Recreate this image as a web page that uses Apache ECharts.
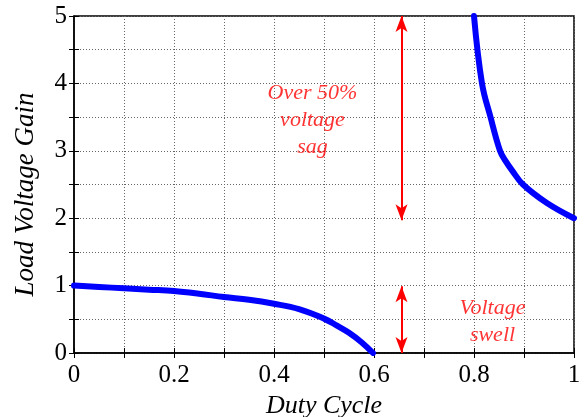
<!DOCTYPE html>
<html>
<head>
<meta charset="utf-8">
<script src="https://cdn.jsdelivr.net/npm/echarts@6/dist/echarts.min.js"></script>
<style>
  html, body { margin: 0; padding: 0; background: #fff; }
  #chart { width: 586px; height: 417px; }
</style>
</head>
<body>
<div id="chart"></div>
<script>
// lower branch (duty cycle, gain)
var lowD = [0, 0.05, 0.1, 0.15, 0.2, 0.25, 0.3, 0.35, 0.4, 0.45, 0.5, 0.525, 0.55, 0.575, 0.598];
var lowG = [1.0, 0.98, 0.96, 0.94, 0.92, 0.88, 0.83, 0.79, 0.73, 0.65, 0.51, 0.41, 0.30, 0.16, 0.0];
// upper branch
var highD = [0.8, 0.816, 0.833, 0.852, 0.863, 0.876, 0.898, 0.945, 1.0];
var highG = [5.0, 4.0, 3.5, 3.0, 2.85, 2.71, 2.5, 2.23, 2.0];

var xTickLabels = ['0', '0.2', '0.4', '0.6', '0.8', '1'];
var yTickLabels = ['0', '1', '2', '3', '4', '5'];

// arrows: [x, yFrom, yTo]
var arrows = [[0.655, 5, 1.97], [0.655, 0.99, 0]];
// text notes
var noteX = [0.477, 0.837];
var noteY = [3.45, 0.46];
var noteText = ['Over 50%\nvoltage\nsag', 'Voltage\nswell'];

function pairs(a, b) {
  var out = [];
  for (var i = 0; i < a.length; i++) out.push([a[i], b[i]]);
  return out;
}

var font = 'Liberation Serif';
var chart = echarts.init(document.getElementById('chart'));

var option = {
  animation: false,
  grid: {
    left: 74, right: 12, top: 16, bottom: 64, outerBoundsMode: 'none',
    show: true, borderColor: '#000', borderWidth: 1.5
  },
  xAxis: [{
    type: 'value', min: 0, max: 1, interval: 0.1,
    name: 'Duty Cycle', nameLocation: 'middle', nameGap: 30,
    nameTextStyle: { fontFamily: font, fontStyle: 'italic', fontSize: 26, color: '#000' },
    axisLine: { lineStyle: { color: '#000', width: 1.5 } },
    axisTick: { inside: true, length: 5, lineStyle: { color: '#000' } },
    axisLabel: {
      margin: 10, fontFamily: font, fontSize: 25, color: '#000',
      formatter: function (v) {
        var k = Math.round(v * 10);
        return k % 2 === 0 ? xTickLabels[k / 2] : '';
      }
    },
    splitLine: { show: true, lineStyle: { type: [1, 2], color: '#666', width: 1 } }
  }, {
    type: 'value', min: 0, max: 1, interval: 0.1, position: 'top',
    axisLine: { show: false },
    axisTick: { inside: true, length: 5, lineStyle: { color: '#000' } },
    axisLabel: { show: false }, splitLine: { show: false }
  }],
  yAxis: [{
    type: 'value', min: 0, max: 5, interval: 0.5,
    name: 'Load Voltage Gain', nameLocation: 'middle', nameGap: 35,
    nameTextStyle: { fontFamily: font, fontStyle: 'italic', fontSize: 27, color: '#000', padding: [0, 20, 0, 0] },
    axisLine: { show: true, lineStyle: { color: '#000', width: 1.5 } },
    axisTick: { show: true, inside: true, length: 5, lineStyle: { color: '#000' } },
    axisLabel: {
      margin: 7, fontFamily: font, fontSize: 25, color: '#000',
      formatter: function (v) {
        var k = Math.round(v * 2);
        return k % 2 === 0 ? yTickLabels[k / 2] : '';
      }
    },
    splitLine: { show: true, lineStyle: { type: [1, 2], color: '#666', width: 1 } }
  }, {
    type: 'value', min: 0, max: 5, interval: 0.5, position: 'right',
    axisLine: { show: false },
    axisTick: { show: true, inside: true, length: 5, lineStyle: { color: '#000' } },
    axisLabel: { show: false }, splitLine: { show: false }
  }],
  series: [{
    type: 'line', data: pairs(lowD, lowG), smooth: 0.4, showSymbol: false,
    lineStyle: { color: '#0000ff', width: 6, cap: 'round' }
  }, {
    type: 'line', data: pairs(highD, highG), smooth: 0.4, showSymbol: false,
    lineStyle: { color: '#0000ff', width: 6, cap: 'round' }
  }, {
    type: 'scatter', symbolSize: 0, silent: true,
    data: noteX.map(function (x, i) { return { value: [x, noteY[i]], name: noteText[i] }; }),
    label: {
      show: true, position: 'inside', formatter: '{b}',
      fontFamily: font, fontStyle: 'italic', fontSize: 22, lineHeight: 27, color: '#ff0000', align: 'center'
    },
    markLine: {
      silent: true, symbol: ['arrow', 'arrow'], symbolSize: [9, 16],
      lineStyle: { color: '#ff0000', width: 2, type: 'solid' },
      label: { show: false },
      data: arrows.map(function (a) { return [{ coord: [a[0], a[1]] }, { coord: [a[0], a[2]] }]; })
    }
  }]
};

chart.setOption(option);
</script>
</body>
</html>
